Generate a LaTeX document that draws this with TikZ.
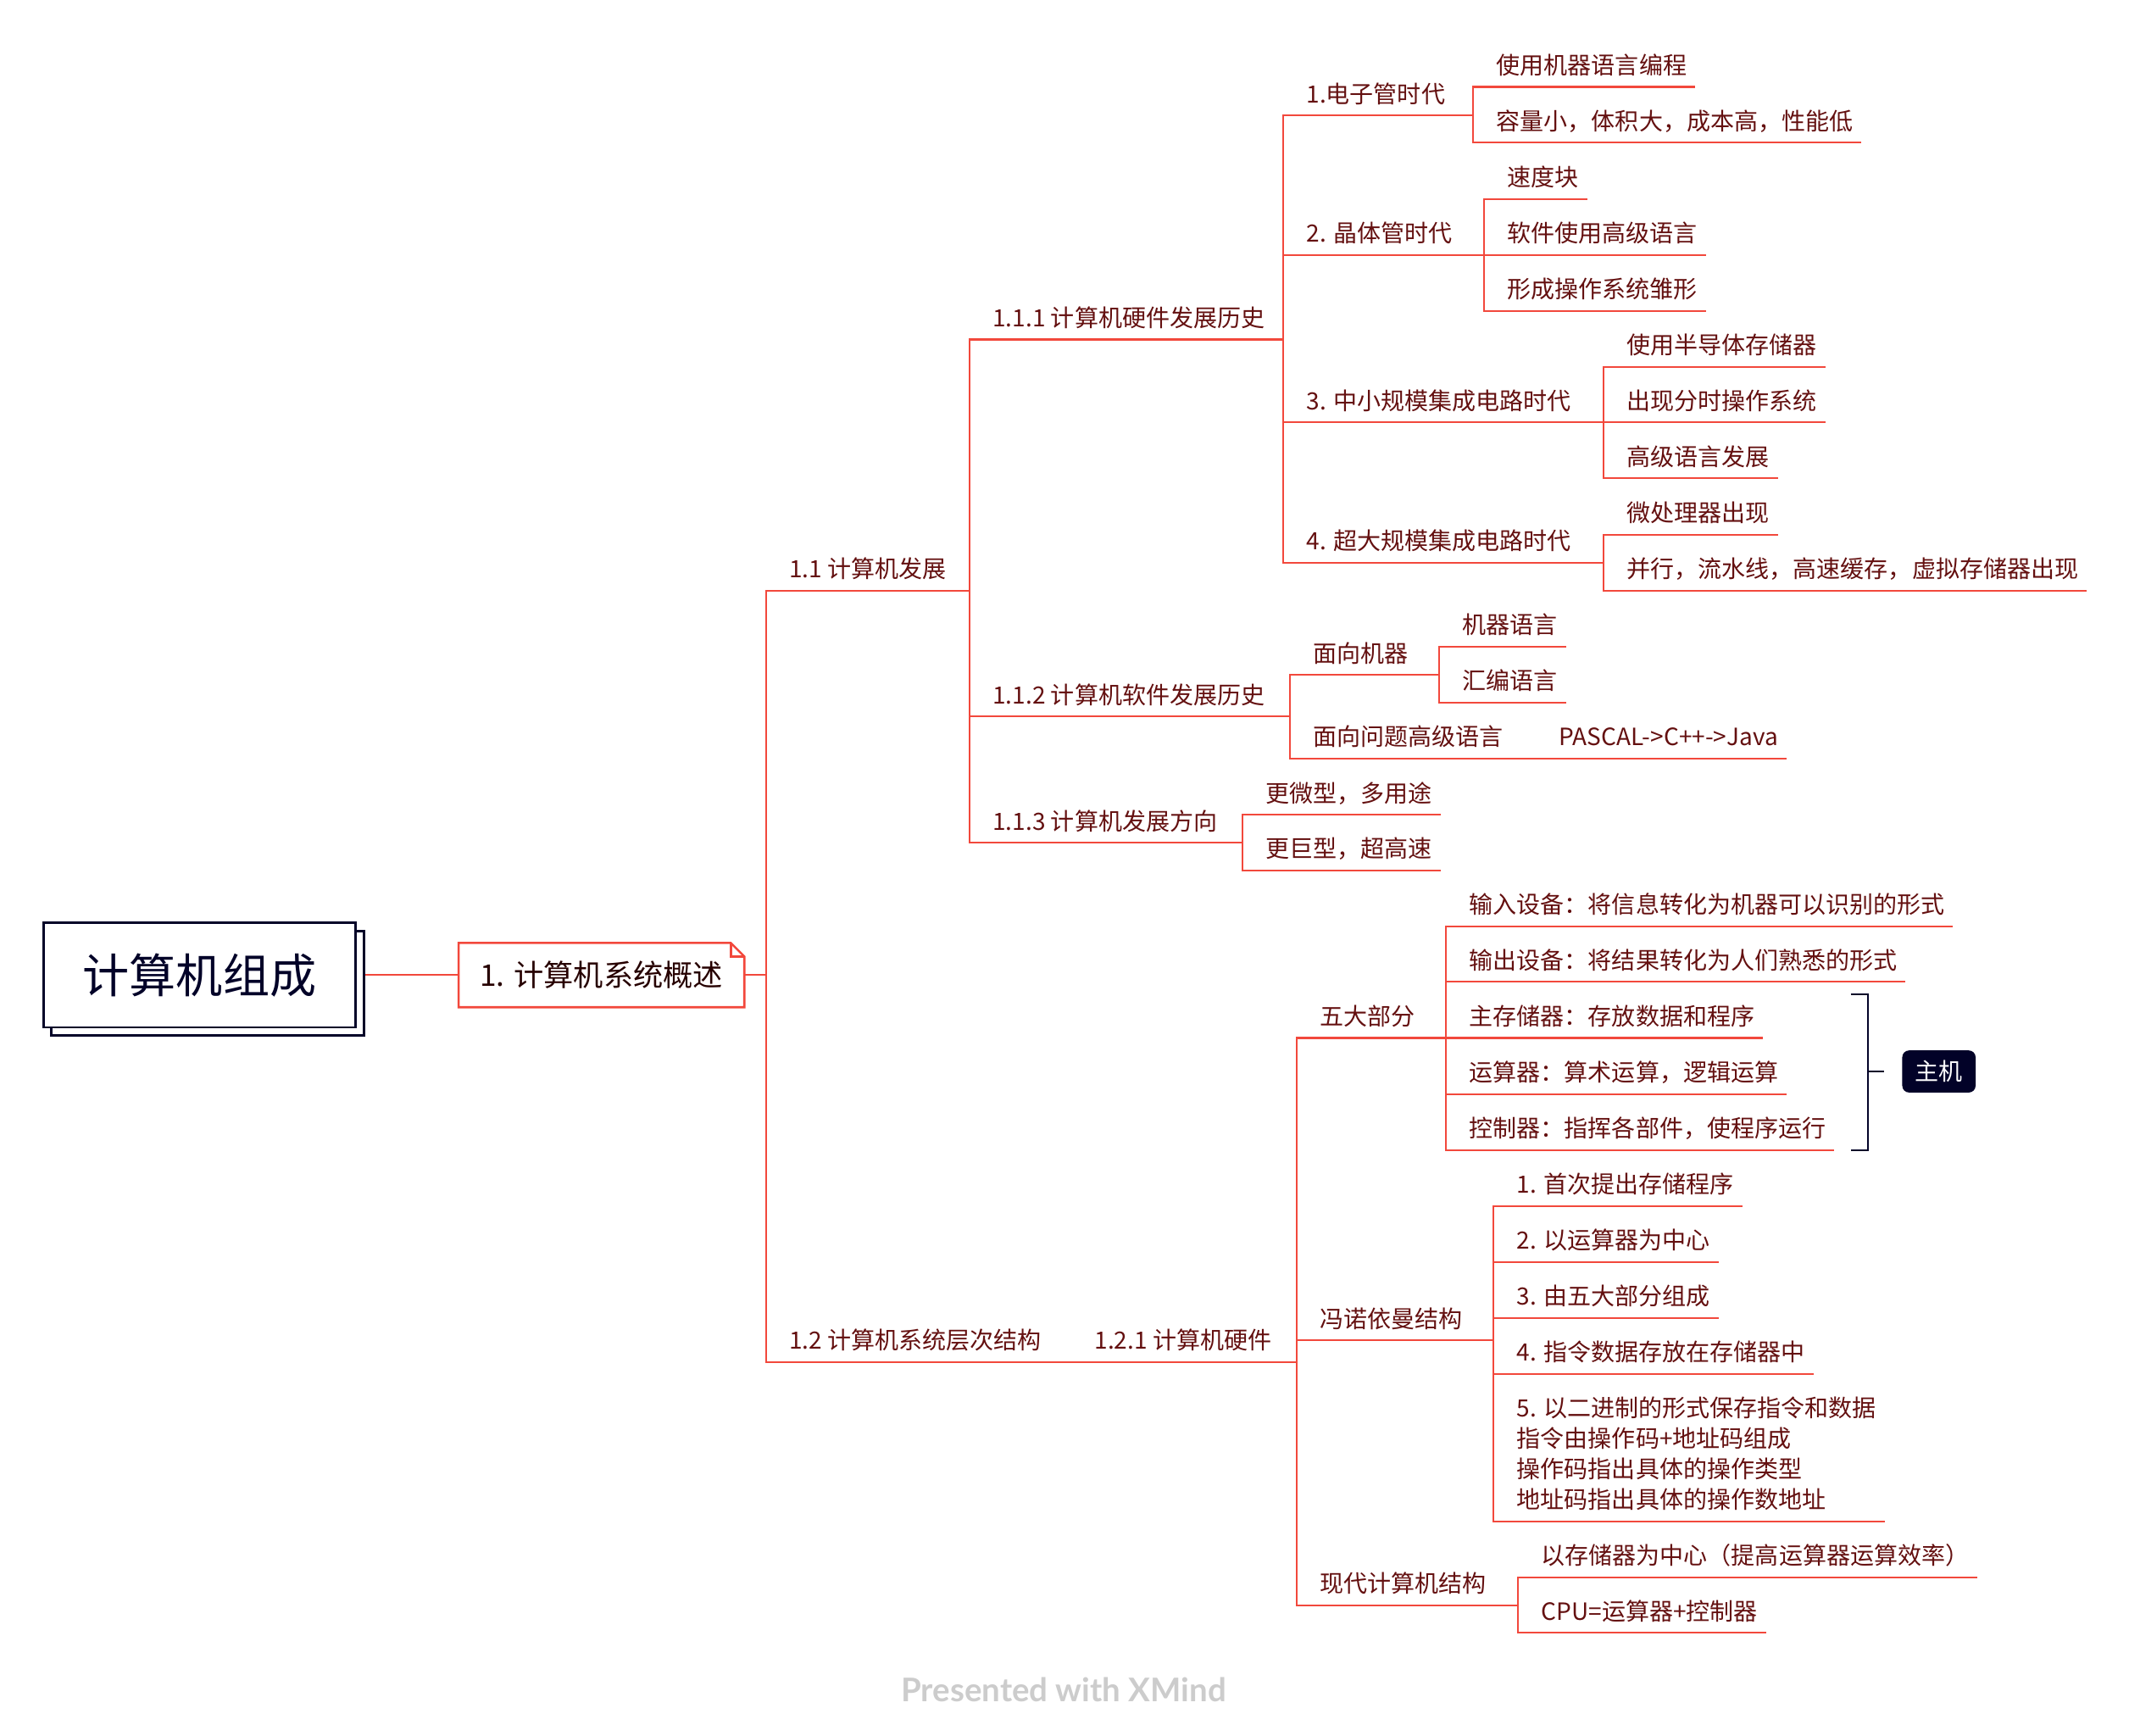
\documentclass[tikz,border=0pt]{standalone}
\usepackage{fontspec}
\setmainfont{Noto Sans CJK SC}
\newfontfamily\creditfont{Lato}
\usetikzlibrary{shadows}

\definecolor{linkred}{RGB}{242,72,60}
\definecolor{textred}{RGB}{100,16,16}
\definecolor{navy}{RGB}{2,2,40}

\tikzset{
  link/.style={draw=linkred, line width=1.3pt},
  topic/.style={anchor=south west, inner xsep=6pt, inner ysep=7.1pt,
    text height=15.4pt, text depth=2.1pt, text=textred,
    font=\fontsize{17.5}{22.3}\selectfont},
  rootbox/.style={draw=navy, fill=white, line width=1.8pt, text=navy,
    minimum width=230pt, minimum height=77pt,
    font=\fontsize{34.4}{40}\selectfont,
    copy shadow={shadow xshift=6pt, shadow yshift=-6pt, draw=navy, fill=white, line width=1.8pt}},
  notebox/.style={minimum width=210pt, minimum height=47pt, inner sep=0pt,
    text=black!85!red, font=\fontsize{22}{26}\selectfont},
  hostbox/.style={fill=navy, text=white, rounded corners=5pt,
    minimum width=54pt, minimum height=31pt, inner sep=0pt,
    font=\fontsize{17.5}{21}\selectfont},
  brace/.style={draw=navy, line width=1.4pt}
}

\begin{document}
\begin{tikzpicture}[x=1pt,y=-1pt]
\useasboundingbox (0,0) rectangle (1568,1278);

% central topic and first branch
\node[rootbox] (root) at (147,718) {计算机组成};
\node[notebox] (s1) at (443,718) {1. 计算机系统概述};
\draw[link, line width=1.6pt] (s1.south west) -- (s1.north west) -- ([xshift=-10pt]s1.north east)
  -- ([yshift=-10pt]s1.north east) -- (s1.south east) -- cycle;
\draw[link, line width=1.6pt] ([xshift=-10pt]s1.north east) |- ([yshift=-10pt]s1.north east);
\draw[link] ([xshift=6pt]root.east) -- (s1.west);

% level 2 and 3
\node[topic] (dev) at (575,435) {1.1 计算机发展};
\node[topic] (arch) at (575,1003) {1.2 计算机系统层次结构};
\node[topic] (hw) at (725,250) {1.1.1 计算机硬件发展历史};
\node[topic] (sw) at (725,527.5) {1.1.2 计算机软件发展历史};
\node[topic] (trend) at (725,620.5) {1.1.3 计算机发展方向};
\node[topic] (hw2) at (800,1003) {1.2.1 计算机硬件};

% hardware history
\node[topic] (era1) at (956,85) {1.电子管时代};
\node[topic] (era2) at (956,187.7) {2. 晶体管时代};
\node[topic] (era3) at (956,311) {3. 中小规模集成电路时代};
\node[topic] (era4) at (956,414.3) {4. 超大规模集成电路时代};
\node[topic] (e1a) at (1096,64) {使用机器语言编程};
\node[topic] (e1b) at (1096,105) {容量小，体积大，成本高，性能低};
\node[topic] (e2a) at (1104,146.5) {速度块};
\node[topic] (e2b) at (1104,187.7) {软件使用高级语言};
\node[topic] (e2c) at (1104,228.9) {形成操作系统雏形};
\node[topic] (e3a) at (1192,270) {使用半导体存储器};
\node[topic] (e3b) at (1192,311) {出现分时操作系统};
\node[topic] (e3c) at (1192,352.3) {高级语言发展};
\node[topic] (e4a) at (1192,393.7) {微处理器出现};
\node[topic] (e4b) at (1192,435) {并行，流水线，高速缓存，虚拟存储器出现};

% software history and trends
\node[topic] (mach) at (961,497) {面向机器};
\node[topic] (prob) at (961,558.5) {面向问题高级语言};
\node[topic] (mlang) at (1071,476) {机器语言};
\node[topic] (asm) at (1071,517.3) {汇编语言};
\node[topic] (pascal) at (1142,558.5) {PASCAL->C++->Java};
\node[topic] (tr1) at (926,600) {更微型，多用途};
\node[topic] (tr2) at (926,641) {更巨型，超高速};

% computer hardware
\node[topic] (five) at (966,764.3) {五大部分};
\node[topic] (vn) at (966,987) {冯诺依曼结构};
\node[topic] (modern) at (966,1182) {现代计算机结构};
\node[topic] (in) at (1076,682) {输入设备：将信息转化为机器可以识别的形式};
\node[topic] (out) at (1076,723) {输出设备：将结果转化为人们熟悉的形式};
\node[topic] (mem) at (1076,764.3) {主存储器：存放数据和程序};
\node[topic] (alu) at (1076,805.7) {运算器：算术运算，逻辑运算};
\node[topic] (ctrl) at (1076,847) {控制器：指挥各部件，使程序运行};
\node[topic] (vn1) at (1111,888) {1. 首次提出存储程序};
\node[topic] (vn2) at (1111,929.3) {2. 以运算器为中心};
\node[topic] (vn3) at (1111,970.6) {3. 由五大部分组成};
\node[topic] (vn4) at (1111,1011.6) {4. 指令数据存放在存储器中};
\node[topic, align=left, text height=, text depth=, inner ysep=8pt] (vn5) at (1111,1120.2)
  {5. 以二进制的形式保存指令和数据\\指令由操作码+地址码组成\\操作码指出具体的操作类型\\地址码指出具体的操作数地址};
\node[topic] (mod1) at (1129,1161.5) {以存储器为中心（提高运算器运算效率）};
\node[topic] (mod2) at (1129,1202.3) {CPU=运算器+控制器};

% connectors
\foreach \c in {dev,arch} \draw[link] (s1.east) -| ([xshift=-11pt]\c.south west) -- (\c.south east);
\foreach \c in {hw,sw,trend} \draw[link] (dev.south east) -| ([xshift=-11pt]\c.south west) -- (\c.south east);
\foreach \c in {era1,era2,era3,era4} \draw[link] (hw.south east) -| ([xshift=-11pt]\c.south west) -- (\c.south east);
\foreach \c in {e1a,e1b} \draw[link] (era1.south east) -| ([xshift=-11pt]\c.south west) -- (\c.south east);
\foreach \c in {e2a,e2b,e2c} \draw[link] (era2.south east) -| ([xshift=-11pt]\c.south west) -- (\c.south east);
\foreach \c in {e3a,e3b,e3c} \draw[link] (era3.south east) -| ([xshift=-11pt]\c.south west) -- (\c.south east);
\foreach \c in {e4a,e4b} \draw[link] (era4.south east) -| ([xshift=-11pt]\c.south west) -- (\c.south east);
\foreach \c in {mach,prob} \draw[link] (sw.south east) -| ([xshift=-11pt]\c.south west) -- (\c.south east);
\foreach \c in {mlang,asm} \draw[link] (mach.south east) -| ([xshift=-11pt]\c.south west) -- (\c.south east);
\draw[link] (prob.south east) -- ([xshift=-11pt]pascal.south west) -- (pascal.south east);
\foreach \c in {tr1,tr2} \draw[link] (trend.south east) -| ([xshift=-11pt]\c.south west) -- (\c.south east);
\draw[link] (arch.south east) -- ([xshift=-11pt]hw2.south west) -- (hw2.south east);
\foreach \c in {five,vn,modern} \draw[link] (hw2.south east) -| ([xshift=-11pt]\c.south west) -- (\c.south east);
\foreach \c in {in,out,mem,alu,ctrl} \draw[link] (five.south east) -| ([xshift=-11pt]\c.south west) -- (\c.south east);
\foreach \c in {vn1,vn2,vn3,vn4,vn5} \draw[link] (vn.south east) -| ([xshift=-11pt]\c.south west) -- (\c.south east);
\foreach \c in {mod1,mod2} \draw[link] (modern.south east) -| ([xshift=-11pt]\c.south west) -- (\c.south east);

% summary bracket
\node[hostbox] (host) at (1428,789) {主机};
\coordinate (bx) at (1375.5,789);
\draw[brace] ([xshift=-12.5pt]bx |- mem.north) -- (bx |- mem.north) -- (bx |- ctrl.south) -- ([xshift=-12.5pt]bx |- ctrl.south);
\draw[brace] (bx |- host.west) -- ([xshift=-13pt]host.west);

\node[font=\creditfont\bfseries\fontsize{24}{29}\selectfont, text=black!20] (credit) at (783.5,1244) {Presented with XMind};
\end{tikzpicture}
\end{document}
